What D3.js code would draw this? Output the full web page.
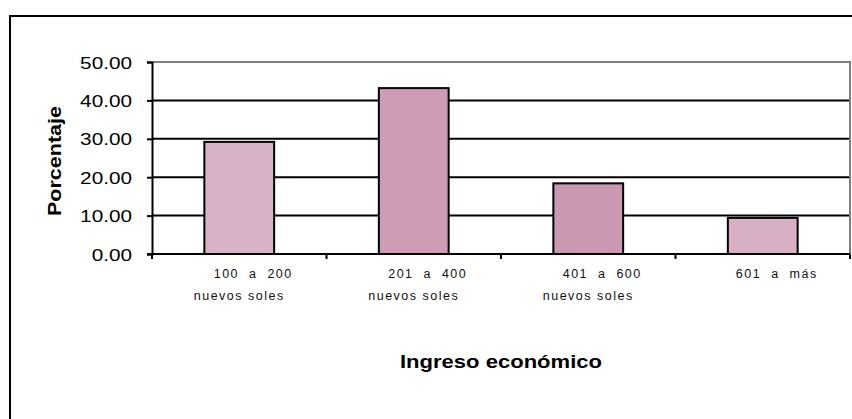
<!DOCTYPE html>
<html>
<head>
<meta charset="utf-8">
<script src="https://cdn.jsdelivr.net/npm/d3@7"></script>
<style>
  html, body { margin: 0; padding: 0; background: #fff; }
  svg { display: block; font-family: "Liberation Sans", Arial, sans-serif; }
</style>
</head>
<body>
<svg id="chart" width="852" height="419"></svg>
<script>
// ---- data ----
const categories = ["100 a 200|nuevos soles", "201 a 400|nuevos soles", "401 a 600|nuevos soles", "601 a más"];
const labelLine1 = ["100  a  200", "201  a  400", "401  a  600", "601  a  más"];
const labelLine2 = ["nuevos soles", "nuevos soles", "nuevos soles", ""];
const values = [29.2, 43.2, 18.4, 9.4];
const barColors = ["#D8B3C7", "#CF9CB8", "#CB98B4", "#D8B0C5"];
const yTicks = [0, 10, 20, 30, 40, 50];
const yTitle = "Porcentaje";
const xTitle = "Ingreso económico";

// ---- layout ----
const svg = d3.select("#chart");
const pLeft = 152, pRight = 850, pTop = 62, pBottom = 254;
const stretch = 1.22;

// outer frame
svg.append("rect")
  .attr("x", 10).attr("y", 16).attr("width", 900).attr("height", 500)
  .attr("fill", "none").attr("stroke", "#000").attr("stroke-width", 2);

const x = d3.scaleBand().domain(categories).range([pLeft, pRight])
  .paddingInner(0.6).paddingOuter(0.3);
const y = d3.scaleLinear().domain([0, 50]).range([pBottom, pTop]);

// gridlines
svg.append("g").selectAll("line").data(yTicks.filter(t => t > 0 && t < 50)).join("line")
  .attr("x1", pLeft).attr("x2", pRight)
  .attr("y1", d => y(d)).attr("y2", d => y(d))
  .attr("stroke", "#000").attr("stroke-width", 2);

// plot area border (top + right, grey)
svg.append("path")
  .attr("d", `M${pLeft},${y(50)}H${pRight}V${y(0)}`)
  .attr("fill", "none").attr("stroke", "#808080").attr("stroke-width", 2);

// bars
svg.append("g").selectAll("rect").data(values).join("rect")
  .attr("x", (d, i) => x(categories[i]))
  .attr("y", d => y(d))
  .attr("width", x.bandwidth())
  .attr("height", d => y(0) - y(d))
  .attr("fill", (d, i) => barColors[i])
  .attr("stroke", "#000").attr("stroke-width", 2);

// y axis
const yAxis = svg.append("g")
  .attr("transform", `translate(${pLeft},0)`)
  .call(d3.axisLeft(y).tickValues(yTicks).tickFormat(d3.format(".2f")).tickSize(5).tickPadding(15));
yAxis.select(".domain").attr("stroke", "#000").attr("stroke-width", 2);
yAxis.selectAll(".tick line").attr("stroke", "#000").attr("stroke-width", 2);
yAxis.selectAll(".tick text")
  .attr("font-family", "'Liberation Sans', Arial, sans-serif")
  .attr("font-size", 17).attr("fill", "#000").attr("dy", "0.36em")
  .each(function () {
    const w = this.getComputedTextLength();
    d3.select(this).attr("textLength", w * stretch).attr("lengthAdjust", "spacingAndGlyphs");
  });

// x axis line and boundary ticks
const step = x.step();
const bounds = d3.range(categories.length + 1).map(i => x(categories[0]) - step * x.paddingOuter() + i * step);
svg.append("line")
  .attr("x1", pLeft - 5).attr("x2", pRight)
  .attr("y1", y(0)).attr("y2", y(0))
  .attr("stroke", "#000").attr("stroke-width", 2);
svg.append("g").selectAll("line").data(bounds).join("line")
  .attr("x1", d => d).attr("x2", d => d)
  .attr("y1", y(0)).attr("y2", y(0) + 5)
  .attr("stroke", "#000").attr("stroke-width", 2);

// category labels
const catG = svg.append("g").attr("font-size", 12.5).attr("fill", "#111")
  .style("letter-spacing", "1.5px");
categories.forEach((c, i) => {
  const cx = x(c) + x.bandwidth() / 2;
  catG.append("text")
    .attr("x", cx + 14).attr("y", 278)
    .attr("text-anchor", "middle").style("white-space", "pre")
    .text(labelLine1[i]);
  if (labelLine2[i]) {
    catG.append("text")
      .attr("x", cx).attr("y", 300)
      .attr("text-anchor", "middle").style("white-space", "pre")
      .text(labelLine2[i]);
  }
});

// axis titles
svg.append("text")
  .attr("transform", `translate(61,${(pTop + pBottom) / 2 + 3}) rotate(-90)`)
  .attr("text-anchor", "middle")
  .attr("font-size", 17.5).attr("font-weight", "bold").attr("fill", "#000")
  .attr("textLength", 110).attr("lengthAdjust", "spacingAndGlyphs")
  .text(yTitle);

svg.append("text")
  .attr("x", (pLeft + pRight) / 2).attr("y", 368)
  .attr("text-anchor", "middle")
  .attr("font-size", 17.5).attr("font-weight", "bold").attr("fill", "#000")
  .attr("textLength", 202).attr("lengthAdjust", "spacingAndGlyphs")
  .text(xTitle);
</script>
</body>
</html>
